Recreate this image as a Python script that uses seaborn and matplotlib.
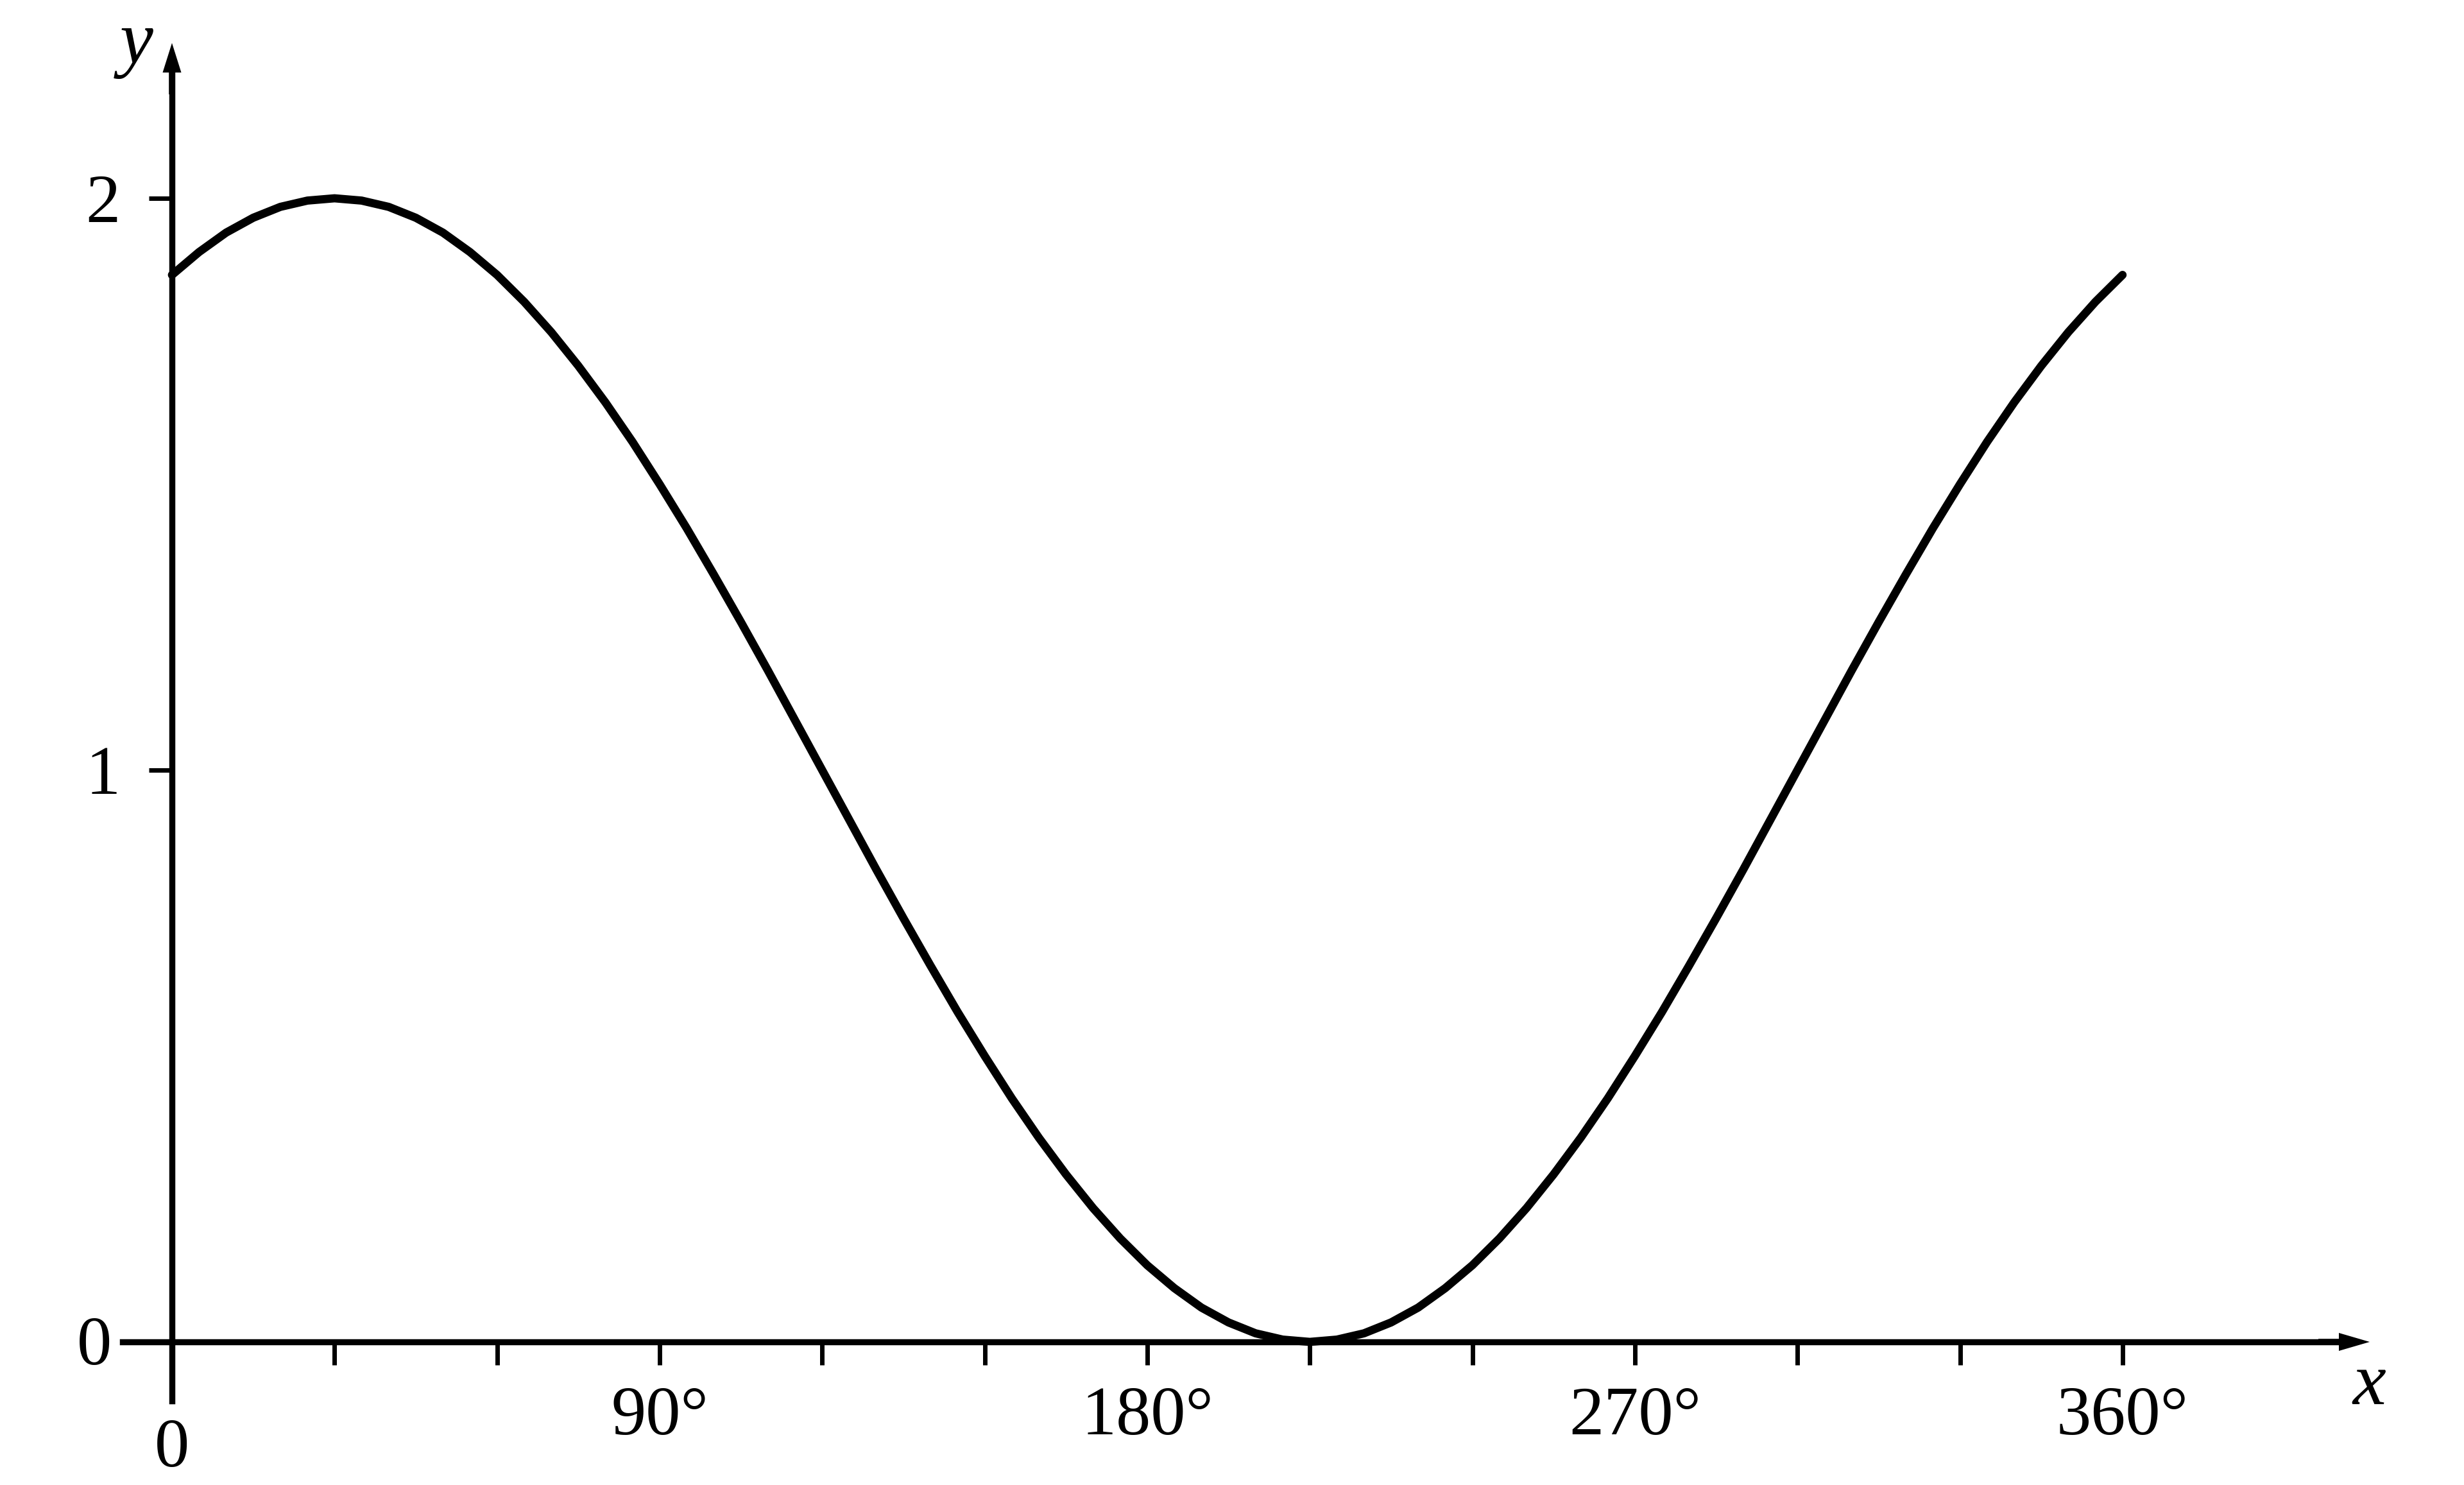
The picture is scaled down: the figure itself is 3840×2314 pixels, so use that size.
import pandas as pd
import seaborn as sns
import matplotlib.pyplot as plt

# curve samples, every 5 degrees
x_deg = list(range(0, 365, 5))
y_val = [
    1.866, 1.906, 1.940, 1.966, 1.985, 1.996, 2.000, 1.996, 1.985, 1.966,
    1.940, 1.906, 1.866, 1.819, 1.766, 1.707, 1.643, 1.574, 1.500, 1.423,
    1.342, 1.259, 1.174, 1.087, 1.000, 0.913, 0.826, 0.741, 0.658, 0.577,
    0.500, 0.426, 0.357, 0.293, 0.234, 0.181, 0.134, 0.094, 0.060, 0.034,
    0.015, 0.004, 0.000, 0.004, 0.015, 0.034, 0.060, 0.094, 0.134, 0.181,
    0.234, 0.293, 0.357, 0.426, 0.500, 0.577, 0.658, 0.741, 0.826, 0.913,
    1.000, 1.087, 1.174, 1.259, 1.342, 1.423, 1.500, 1.574, 1.643, 1.707,
    1.766, 1.819, 1.866,
]

x_major = [90, 180, 270, 360]
x_major_labels = ["90°", "180°", "270°", "360°"]
x_minor = [30, 60, 120, 150, 210, 240, 300, 330]
y_major = [1, 2]
y_major_labels = ["1", "2"]

sns.set_theme(style="ticks")
plt.rcParams["font.family"] = ["Liberation Serif", "DejaVu Serif"]

FS = 78
BLACK = "black"

# pixels per unit in the 3840x2314 canvas
PX_X = 8.444   # per degree
PX_Y = 891.0   # per unit of y

fig = plt.figure(figsize=(38.4, 23.14), dpi=100)
ax = fig.add_axes([0, 0, 1, 1])

df = pd.DataFrame({"x": x_deg, "y": y_val})
sns.lineplot(data=df, x="x", y="y", ax=ax, color=BLACK, linewidth=9.2,
             solid_capstyle="round", solid_joinstyle="round")
ax.set_xlabel("")
ax.set_ylabel("")

ax.set_xlim(-268 / PX_X, (3840 - 268) / PX_X)
ax.set_ylim(-(2314 - 2091) / PX_Y, 2091 / PX_Y)

# axes through the origin
for side in ["top", "right"]:
    ax.spines[side].set_visible(False)
ax.spines["left"].set_position(("data", 0))
ax.spines["bottom"].set_position(("data", 0))
ax.spines["left"].set_bounds(-92 / PX_Y, 2.24)
ax.spines["bottom"].set_bounds(-77 / PX_X, 401)
for side in ["left", "bottom"]:
    ax.spines[side].set_linewidth(6.8)
    ax.spines[side].set_color(BLACK)

# arrow heads
x_tip = (3693 - 268) / PX_X
y_tip = (2091 - 67) / PX_Y
ax.arrow(x_tip - 80 / PX_X, 0, 80 / PX_X, 0, width=9.5 / PX_Y,
         head_width=28 / PX_Y, head_length=48 / PX_X,
         length_includes_head=True, color=BLACK, lw=0)
ax.arrow(0, y_tip - 80 / PX_Y, 0, 80 / PX_Y, width=9.5 / PX_X,
         head_width=29 / PX_X, head_length=46 / PX_Y,
         length_includes_head=True, color=BLACK, lw=0)

ax.set_xticks(x_major, labels=x_major_labels)
ax.set_xticks(x_minor, minor=True)
ax.set_yticks(y_major, labels=y_major_labels)
ax.tick_params(axis="both", which="both", direction="out", length=26,
               width=5, color=BLACK, labelcolor=BLACK, labelsize=FS)
ax.tick_params(axis="x", which="both", pad=24, bottom=True)
ax.tick_params(axis="y", which="both", pad=32, left=True)

# origin labels and axis names
ax.text(-121 / PX_X, -35 / PX_Y, "0", fontsize=FS, ha="center",
        va="baseline", color=BLACK)
ax.text(0, -194 / PX_Y, "0", fontsize=FS, ha="center", va="baseline",
        color=BLACK)
ax.text((3692 - 268) / PX_X, -97 / PX_Y, "x", fontsize=84,
        fontstyle="italic", ha="center", va="baseline", color=BLACK)
ax.text((213 - 268) / PX_X, (2091 - 98) / PX_Y, "y", fontsize=84,
        fontstyle="italic", ha="center", va="baseline", color=BLACK)

fig.savefig("out.png", dpi=100, facecolor="white")
